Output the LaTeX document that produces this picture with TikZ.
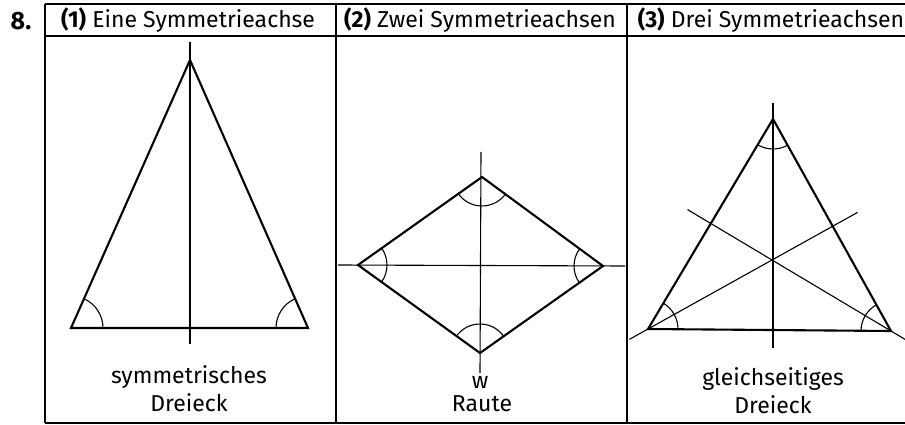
\documentclass[tikz,border=0pt]{standalone}
\usepackage{fontspec}
\setmainfont{Fira Sans}
\usetikzlibrary{angles, calc}
\tikzstyle{tabline}=[draw, line width=1.5pt]
\tikzstyle{side}=[draw, line width=2.1pt, line join=miter]
\tikzstyle{symaxis}=[draw, line width=1.1pt]
\tikzstyle{angmark}=[draw, line width=1.1pt, angle radius=30pt]
\tikzstyle{every node}=[font=\fontsize{23}{28}\selectfont, inner sep=0pt]
\tikzstyle{label}=[align=center]

\begin{document}
\begin{tikzpicture}[x=1pt, y=-1pt]
    \useasboundingbox (0,0) rectangle (905,425);
    % table
    \coordinate (c0t) at (45,4);   \coordinate (c0b) at (45,423);
    \coordinate (c1t) at (336,4);  \coordinate (c1b) at (336,423);
    \coordinate (c2t) at (627,4);  \coordinate (c2b) at (627,423);
    \coordinate (ct) at (905,4);   \coordinate (cb) at (905,423);
    \coordinate (hl) at (45,36);   \coordinate (hr) at (905,36);
    \draw[tabline] (c0t) -- (ct);
    \draw[tabline] (hl) -- (hr);
    \draw[tabline] (c0b) -- (cb);
    \draw[tabline] (c0t) -- (c0b);
    \draw[tabline] (c1t) -- (c1b);
    \draw[tabline] (c2t) -- (c2b);
    \node[font=\fontsize{25}{28}\selectfont\bfseries] (num) at (21,21) {8.};
    \node (h1) at (188,20) {\textbf{(1)} Eine Symmetrieachse};
    \node (h2) at (480,20) {\textbf{(2)} Zwei Symmetrieachsen};
    \node (h3) at (771,20) {\textbf{(3)} Drei Symmetrieachsen};

    % (1) symmetrisches Dreieck
    \coordinate (T) at (190,60);
    \coordinate (L) at (71,328);
    \coordinate (R) at (308,328);
    \coordinate (a1) at (190,42);
    \coordinate (a2) at (190,344);
    \draw[symaxis] (a1) -- (a2);
    \draw[side] (T) -- (L) -- (R) -- cycle;
    \pic[angmark, angle radius=32pt] {angle = R--L--T};
    \pic[angmark, angle radius=32pt] {angle = T--R--L};
    \node[label] (l1) at (189,389) {symmetrisches\\Dreieck};

    % (2) Raute
    \coordinate (A) at (482,177);
    \coordinate (B) at (358,265);
    \coordinate (C) at (480,353);
    \coordinate (D) at (603,266);
    \coordinate (v1) at (481,152);
    \coordinate (v2) at (480,373);
    \coordinate (w1) at (338,265);
    \coordinate (w2) at (625,266);
    \draw[symaxis] (v1) -- (v2);
    \draw[symaxis] (w1) -- (w2);
    \draw[side] (A) -- (B) -- (C) -- (D) -- cycle;
    \pic[angmark, angle radius=29pt] {angle = B--A--D};
    \pic[angmark, angle radius=29pt] {angle = C--B--A};
    \pic[angmark, angle radius=29pt] {angle = D--C--B};
    \pic[angmark, angle radius=29pt] {angle = A--D--C};
    \node (w) at (480,382) {w};
    \node (raute) at (482,404) {Raute};

    % (3) gleichseitiges Dreieck
    \coordinate (P) at (773,119);
    \coordinate (Q) at (648,329);
    \coordinate (S) at (891,331);
    \coordinate (G) at (772,260);
    \coordinate (p1) at (773,103);
    \coordinate (p2) at (773,348);
    \coordinate (q1) at ($(Q)!-0.15!(G)$);
    \coordinate (q2) at ($(Q)!1.69!(G)$);
    \coordinate (s1) at ($(S)!-0.15!(G)$);
    \coordinate (s2) at ($(S)!1.71!(G)$);
    \draw[symaxis] (p1) -- (p2);
    \draw[symaxis] (q1) -- (q2);
    \draw[symaxis] (s1) -- (s2);
    \draw[side] (P) -- (Q) -- (S) -- cycle;
    \pic[angmark] {angle = Q--P--S};
    \pic[angmark] {angle = S--Q--P};
    \pic[angmark] {angle = P--S--Q};
    \node[label] (l3) at (773,391) {gleichseitiges\\Dreieck};
\end{tikzpicture}
\end{document}
